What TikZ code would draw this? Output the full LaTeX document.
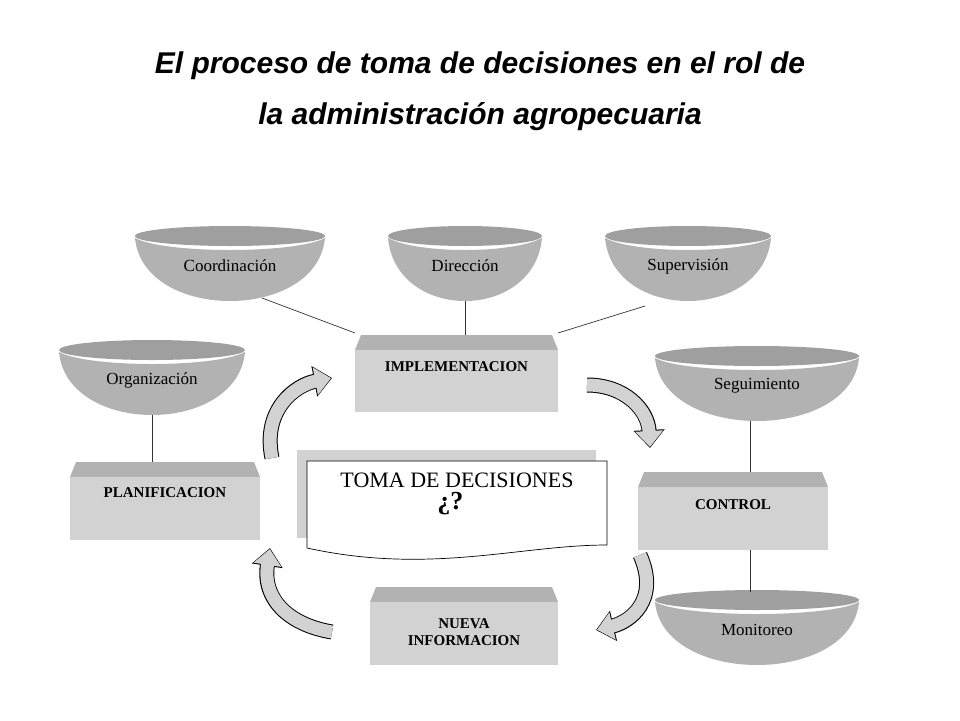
\documentclass[tikz,border=0pt]{standalone}
\usepackage{fontspec}
\setmainfont{Liberation Serif}
\newfontfamily\titlefont{Liberation Sans}
\usetikzlibrary{arrows.meta,positioning}
\tikzset{
  disklabel/.style = {font=\fontsize{17}{19}\selectfont, inner sep=1pt},
  boxlabel/.style = {font=\bfseries\fontsize{15}{17}\selectfont, align=center},
  link/.style = {draw=black!80, line width=0.7pt},
}
% pan-like disk: centre x, top y, half width, label, name
\newcommand{\panshape}[5]{%
  \fill[gray!75] (#1,#2+10) ellipse[x radius=#3, y radius=10];
  \fill[gray!60] (#1-#3,#2+12) .. controls (#1-#3+8,#2+96) and (#1+#3-8,#2+96) .. (#1+#3,#2+12)
    .. controls (#1+#3-30,#2+28) and (#1-#3+30,#2+28) .. cycle;
  \node[disklabel] (#5) at (#1,#2+40) {#4};
  \coordinate (#5-b) at (#1,#2+75);
}
% box with bevelled top: left, top, right, bottom, label offset, label, name
\newcommand{\bevelbox}[7]{%
  \fill[gray!60] (#1+6,#2) -- (#3-6,#2) -- (#3,#2+15) -- (#1,#2+15) -- cycle;
  \fill[gray!35] (#1,#2+15) rectangle (#3,#4);
  \node[boxlabel] (#7) at ({(#1+#3)/2},#2+15+#5) {#6};
}
% block arrow along a curve
\newcommand{\blockarrow}[1]{%
  \draw[line width=15pt, -{Triangle[width=30pt,length=18pt]}, black] #1;
  \draw[line width=13pt, -{Triangle[width=27pt,length=16pt]}, gray!35, shorten >=1pt] #1;
}
\begin{document}
\begin{tikzpicture}[x=1pt, y=-1pt]
\useasboundingbox (0,0) rectangle (960,720);
\node[font=\titlefont\bfseries\itshape\fontsize{30}{34}\selectfont] (title1) at (480,66) {El proceso de toma de decisiones en el rol de};
\node[font=\titlefont\bfseries\itshape\fontsize{30}{34}\selectfont] (title2) at (480,117) {la administración agropecuaria};

\panshape{230}{226}{95}{Coordinación}{coord}
\panshape{465}{226}{77}{Dirección}{direc}
\panshape{688}{226}{83}{Supervisión}{superv}
\panshape{152}{340}{93}{Organización}{organ}
\panshape{757}{346}{102}{Seguimiento}{segui}
\panshape{757}{590}{102}{Monitoreo}{monit}

\bevelbox{355}{335}{558}{412}{17}{IMPLEMENTACION}{impl}
\bevelbox{70}{462}{260}{540}{16}{PLANIFICACION}{plan}
\bevelbox{638}{472}{828}{550}{18}{CONTROL}{ctrl}
\bevelbox{370}{587}{558}{665}{30}{NUEVA\\INFORMACION}{nueva}

% centre document
\fill[gray!35] (297,450) rectangle (596,538);
\draw[fill=white, line width=0.7pt] (307,461) -- (607,461) -- (607,545)
  .. controls (520,545) and (430,575) .. (307,548) -- cycle;
\node[font=\fontsize{22}{24}\selectfont] (toma) at (457,480) {TOMA DE DECISIONES};
\node[font=\bfseries\fontsize{26}{28}\selectfont, below left=-2pt and -10pt of toma.south] (preg) {¿?};

\coordinate (impl-l) at (355,333);
\coordinate (impl-t) at (465,335);
\coordinate (impl-r) at (558,333);
\coordinate (coord-e) at (262,298);
\coordinate (superv-e) at (645,306);
\coordinate (plan-t) at (152,462);
\coordinate (ctrl-t) at (750,472);
\coordinate (ctrl-b) at (750,550);
\coordinate (monit-t) at (750,592);
\draw[link] (coord-e) -- (impl-l);
\draw[link] (direc-b) -- (impl-t);
\draw[link] (superv-e) -- (impl-r);
\draw[link] (organ-b) -- (plan-t);
\draw[link] (750,421) -- (ctrl-t);
\draw[link] (ctrl-b) -- (monit-t);

\blockarrow{(272,458) .. controls (262,410) and (295,385) .. (332,378)}
\blockarrow{(587,385) .. controls (625,385) and (648,410) .. (650,448)}
\blockarrow{(640,555) .. controls (660,600) and (630,622) .. (596,630)}
\blockarrow{(332,632) .. controls (290,625) and (262,600) .. (270,548)}
\end{tikzpicture}
\end{document}
